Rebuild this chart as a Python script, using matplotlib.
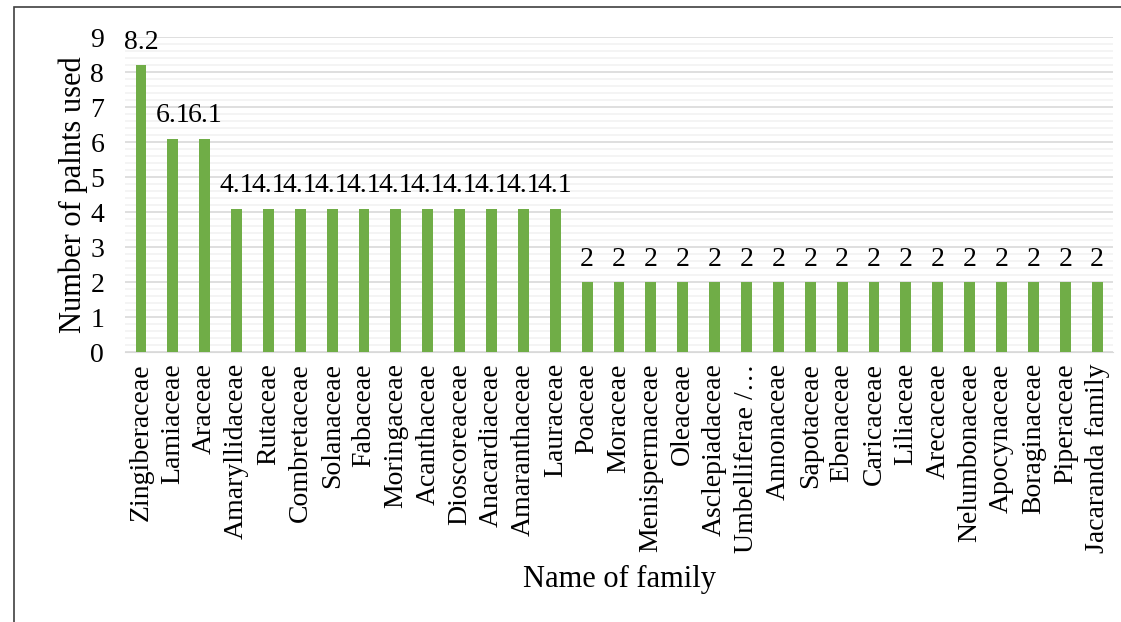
import matplotlib.pyplot as plt
from matplotlib.patches import Rectangle
from matplotlib.ticker import MultipleLocator

families = ['Zingiberaceae', 'Lamiaceae', 'Araceae', 'Amaryllidaceae', 'Rutaceae',
            'Combretaceae', 'Solanaceae', 'Fabaceae', 'Moringaceae', 'Acanthaceae',
            'Dioscoreaceae', 'Anacardiaceae', 'Amaranthaceae', 'Lauraceae', 'Poaceae',
            'Moraceae', 'Menispermaceae', 'Oleaceae', 'Asclepiadaceae', 'Umbelliferae /\u2026',
            'Annonaceae', 'Sapotaceae', 'Ebenaceae', 'Caricaceae', 'Liliaceae',
            'Arecaceae', 'Nelumbonaceae', 'Apocynaceae', 'Boraginaceae', 'Piperaceae',
            'Jacaranda family']
values = [8.2, 6.1, 6.1, 4.1, 4.1, 4.1, 4.1, 4.1, 4.1, 4.1, 4.1, 4.1, 4.1, 4.1,
          2, 2, 2, 2, 2, 2, 2, 2, 2, 2, 2, 2, 2, 2, 2, 2, 2]

plt.rcParams['font.family'] = ['Liberation Serif', 'DejaVu Serif']

fig = plt.figure(figsize=(11.21, 6.22), dpi=100)
ax = fig.add_axes([0.1115, 0.434, 0.8814, 0.5065])

x = range(len(values))
ax.bar(x, values, width=0.34, color='#70AD47', zorder=3)
for i, v in zip(x, values):
    ax.text(i, v + 0.3, f'{v:g}', ha='center', va='bottom', fontsize=20, zorder=4)

ax.set_xlim(-0.5, len(values) - 0.5)
ax.set_ylim(0, 9)
ax.yaxis.set_major_locator(MultipleLocator(1))
ax.yaxis.set_minor_locator(MultipleLocator(0.2))
ax.grid(which='major', axis='y', color='#D9D9D9', linewidth=1.2, zorder=0)
ax.grid(which='minor', axis='y', color='#F2F2F2', linewidth=1.2, zorder=0)
ax.set_xticks(list(x))
ax.set_xticklabels(families, rotation=90, fontsize=20)
ax.tick_params(axis='both', which='both', length=0, labelsize=20)
ax.tick_params(axis='x', pad=8)
ax.tick_params(axis='y', pad=15)
for s in ['top', 'right', 'left']:
    ax.spines[s].set_visible(False)
ax.spines['bottom'].set_color('#D9D9D9')
ax.set_ylabel('Number of palnts used', fontsize=22, labelpad=2)
ax.set_xlabel('Name of family', fontsize=22, labelpad=9)

fig.patches.append(Rectangle((14 / 1121, -0.1), 1.2, 1 - 7 / 622 + 0.1, transform=fig.transFigure,
                             fill=False, edgecolor='#404040', linewidth=1.2))

fig.savefig('out.png', dpi=100)
